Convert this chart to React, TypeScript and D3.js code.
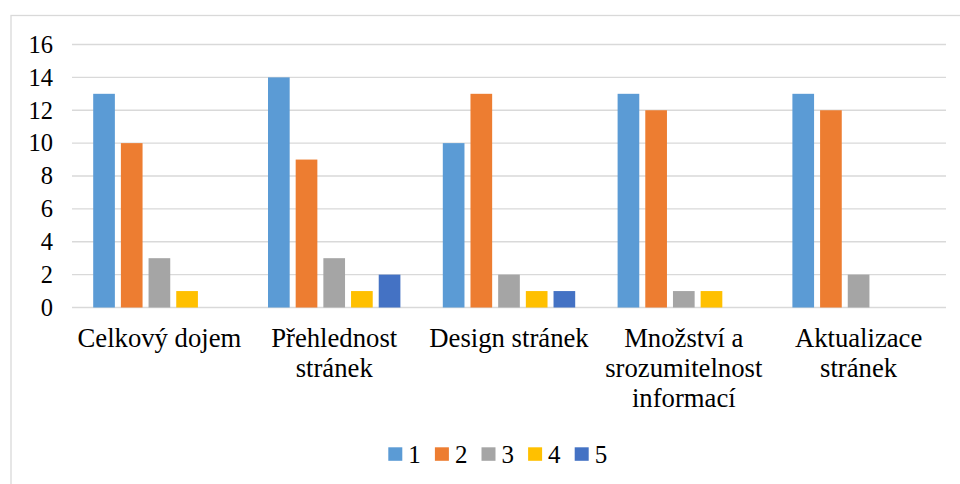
import React from "react";
import * as d3 from "d3";

const categories: string[][] = [
  ["Celkový dojem"],
  ["Přehlednost", "stránek"],
  ["Design stránek"],
  ["Množství a", "srozumitelnost", "informací"],
  ["Aktualizace", "stránek"],
];
const seriesNames = ["1", "2", "3", "4", "5"];
const series1 = [13, 14, 10, 13, 13];
const series2 = [10, 9, 13, 12, 12];
const series3 = [3, 3, 2, 1, 2];
const series4 = [1, 1, 1, 1, 0];
const series5 = [0, 2, 1, 0, 0];
const yTicks = [0, 2, 4, 6, 8, 10, 12, 14, 16];

const seriesValues = [series1, series2, series3, series4, series5];
const colors = ["#5B9BD5", "#ED7D31", "#A5A5A5", "#FFC000", "#4472C4"];

const W = 960;
const H = 484;
const plot = { left: 72, right: 946, top: 44.5, bottom: 307.5 };
const textStyle: React.CSSProperties = {
  fontFamily: '"Times New Roman", Tinos, serif',
};

export default function App() {
  const catKeys = categories.map((c) => c.join(" "));
  const x0 = d3.scaleBand<string>().domain(catKeys).range([plot.left, plot.right]).padding(0);
  const groupPad = 21.2;
  const x1 = d3
    .scaleBand<string>()
    .domain(seriesNames)
    .range([groupPad, x0.bandwidth() - groupPad])
    .paddingInner(0.217)
    .paddingOuter(0);
  const y = d3.scaleLinear().domain([0, 16]).range([plot.bottom, plot.top]);

  const legendStart = 388.3;
  const legendStep = 46.6;

  return (
    <svg
      width={W}
      height={H}
      style={{ position: "absolute", left: 0, top: 0, background: "#fff" }}
    >
      <rect x={0} y={0} width={W} height={H} fill="#fff" />
      <rect x={11} y={15.5} width={W + 10} height={H + 10} fill="none" stroke="#D9D9D9" strokeWidth={1.3} />

      {yTicks.map((t) => (
        <g key={t}>
          <line x1={plot.left} x2={plot.right} y1={y(t)} y2={y(t)} stroke="#D9D9D9" strokeWidth={1.3} />
          <text x={53} y={y(t)} dy="0.34em" textAnchor="end" fontSize={24.5} fill="#000" style={textStyle}>
            {t}
          </text>
        </g>
      ))}

      {catKeys.map((c, ci) => (
        <g key={c} transform={`translate(${x0(c)},0)`}>
          {seriesNames.map((s, si) => {
            const v = seriesValues[si][ci];
            if (!v) return null;
            return (
              <rect
                key={s}
                x={x1(s)}
                y={y(v)}
                width={x1.bandwidth()}
                height={y(0) - y(v)}
                fill={colors[si]}
              />
            );
          })}
        </g>
      ))}

      {categories.map((lines, ci) => {
        const cx = (x0(catKeys[ci]) as number) + x0.bandwidth() / 2;
        return (
          <text key={ci} x={cx} y={347} textAnchor="middle" fontSize={26.7} fill="#000" style={textStyle}>
            {lines.map((l, li) => (
              <tspan key={li} x={cx} y={347 + li * 30.2}>
                {l}
              </tspan>
            ))}
          </text>
        );
      })}

      {seriesNames.map((s, si) => {
        const lx = legendStart + si * legendStep;
        return (
          <g key={s}>
            <rect x={lx} y={447.3} width={14} height={13.5} fill={colors[si]} />
            <text x={lx + 20} y={462.7} fontSize={25} fill="#000" style={textStyle}>
              {s}
            </text>
          </g>
        );
      })}
    </svg>
  );
}
